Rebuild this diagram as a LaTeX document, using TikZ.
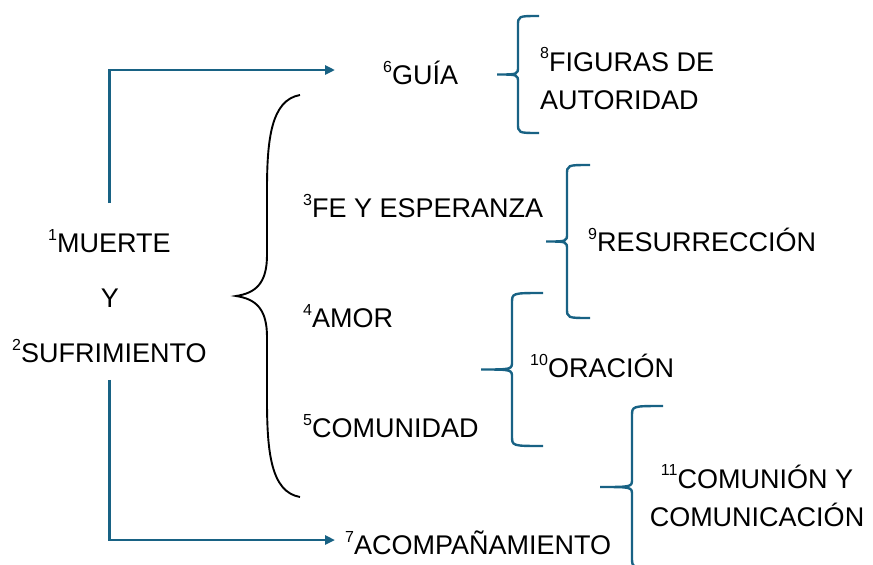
\documentclass[tikz,border=0pt]{standalone}
\usepackage{fontspec}
\setmainfont{Liberation Sans}
\usepackage{tikz}
\usetikzlibrary{arrows.meta}
\definecolor{lineColor}{RGB}{24,98,132}
\tikzstyle{canvas} = [x = 1pt, y = -1pt]
\tikzstyle{textLabel} = [font=\fontsize{27}{37}\selectfont, inner sep = 0, text height = 19.5pt, text depth = 0pt, anchor = west]
\tikzstyle{blockLabel} = [font=\fontsize{27}{37.5}\selectfont, inner sep = 0]
\tikzstyle{flowArrow} = [color=lineColor, line width = 2.6pt, -{Triangle[length=10pt, width=9pt]}]
\tikzstyle{braceLine} = [color=lineColor, line width = 2.4pt]
\tikzstyle{bigBraceLine} = [color=black, line width = 1.9pt]
\newcommand{\idx}[1]{\raisebox{.47em}{\fontsize{16}{16}\selectfont #1}}
\newcommand{\blueBrace}[5]{
  \pgfmathsetmacro{\braceMid}{(#4 + #5) / 2}
  \draw [braceLine] (#1, #4) .. controls (#2, #4) .. (#2, #4 + 10) -- (#2, \braceMid - 8)
    .. controls (#2, \braceMid) .. (#3, \braceMid)
    .. controls (#2, \braceMid) .. (#2, \braceMid + 8) -- (#2, #5 - 10)
    .. controls (#2, #5) .. (#1, #5);
}
\begin{document}
\begin{tikzpicture}[canvas]
          \useasboundingbox (0, 0) rectangle (873, 565);
          \node [textLabel] (muerte) at (48, 243) {\idx{1}MUERTE};
          \node [textLabel, anchor = center] (yLetter) at (110, 298) {Y};
          \node [textLabel] (sufrimiento) at (12, 353) {\idx{2}SUFRIMIENTO};
          \node [textLabel] (guia) at (383, 75) {\idx{6}GUÍA};
          \node [textLabel] (fe) at (303, 208) {\idx{3}FE Y ESPERANZA};
          \node [textLabel] (amor) at (303, 318) {\idx{4}AMOR};
          \node [textLabel] (comunidad) at (303, 428) {\idx{5}COMUNIDAD};
          \node [textLabel] (acomp) at (345, 545) {\idx{7}ACOMPAÑAMIENTO};
          \node [blockLabel, anchor = base west, align = left] (figuras) at (540, 109) {\idx{8}FIGURAS DE\\AUTORIDAD};
          \node [textLabel] (resurreccion) at (588, 242) {\idx{9}RESURRECCIÓN};
          \node [textLabel] (oracion) at (530, 368) {\idx{10}ORACIÓN};
          \node [blockLabel, anchor = base, align = center] (comunion) at (757, 526) {\idx{11}COMUNIÓN Y\\COMUNICACIÓN};

          \draw [flowArrow, shorten <= 30pt, shorten >= 48pt] (muerte.north) |- ([yshift = 5pt]guia.west);
          \draw [flowArrow, shorten <= 17pt, shorten >= 10pt] (sufrimiento.south) |- ([yshift = 5pt]acomp.west);

          \draw [bigBraceLine] (300, 95) .. controls (271, 100) and (267, 140) .. (267, 190) -- (267, 255)
            .. controls (267, 283) and (256, 293) .. (236, 296)
            .. controls (256, 299) and (267, 309) .. (267, 337) -- (267, 400)
            .. controls (267, 452) and (271, 492) .. (300, 497);

          \blueBrace{539}{518}{497}{16}{133}
          \blueBrace{590}{567}{546}{165}{318}
          \blueBrace{543}{512}{481}{293}{446}
          \blueBrace{663}{632}{600}{406}{568}
        \end{tikzpicture}
\end{document}
